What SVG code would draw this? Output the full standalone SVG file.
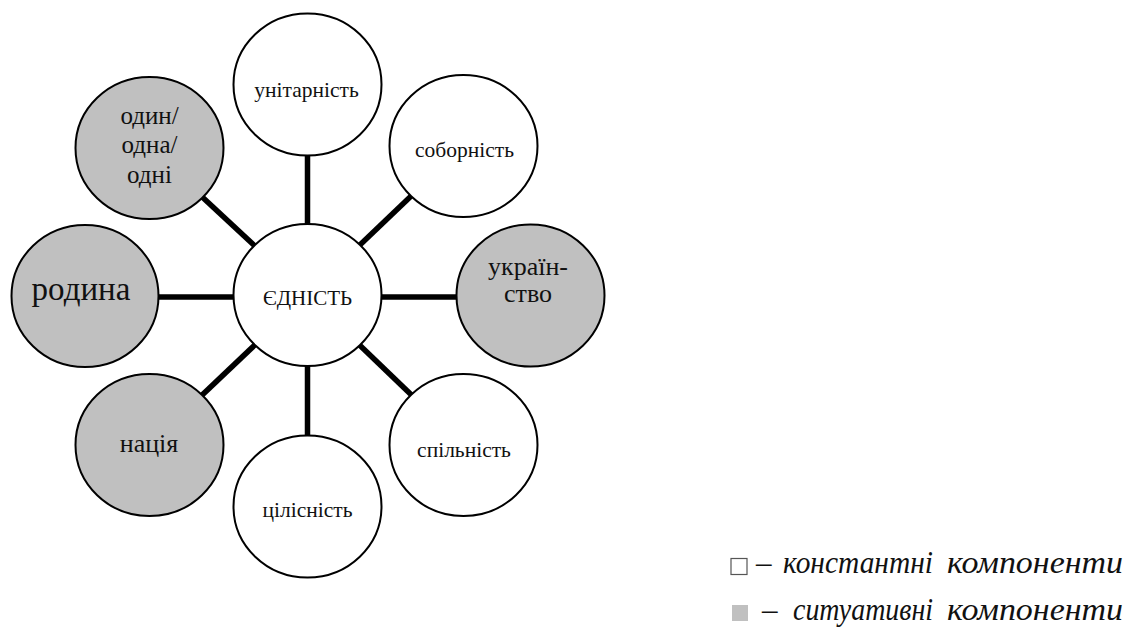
<svg xmlns="http://www.w3.org/2000/svg" width="1128" height="627" viewBox="0 0 1128 627">
  <style>
    .node { stroke: #000; stroke-width: 2; }
    .const { fill: #fff; }
    .sit { fill: #c0c0c0; }
    .label { font-family: "Liberation Serif", "DejaVu Serif", serif; fill: #111; text-anchor: middle; }
    .small { font-size: 21.5px; }
    .link { stroke: #000; stroke-width: 5.5; }
    .legend { font-family: "Liberation Serif", "DejaVu Serif", serif; font-style: italic; font-size: 31px; fill: #111; }
  </style>
  <rect width="1128" height="627" fill="#fff"/>

  <!-- connectors: hub to each satellite, drawn beneath the nodes -->
  <g id="connectors">
    <line class="link" x1="307.5" y1="295" x2="307.5" y2="85"/>
    <line class="link" x1="307.5" y1="295" x2="463.5" y2="146"/>
    <line class="link" x1="307.5" y1="297" x2="530.5" y2="297"/>
    <line class="link" x1="307.5" y1="295" x2="463.5" y2="445"/>
    <line class="link" x1="307.5" y1="295" x2="307.5" y2="506"/>
    <line class="link" x1="307.5" y1="295" x2="149.5" y2="445"/>
    <line class="link" x1="85" y1="297" x2="307.5" y2="297"/>
    <line class="link" x1="149.5" y1="148" x2="307.5" y2="295"/>
  </g>

  <g id="node-center">
    <ellipse class="node const" cx="307.5" cy="295" rx="74" ry="71"/>
    <text class="label" x="307.5" y="305" font-size="21">ЄДНІСТЬ</text>
  </g>

  <g id="node-unitarnist">
    <ellipse class="node const" cx="307.5" cy="84.5" rx="74" ry="71"/>
    <text class="label small" x="306.5" y="97">унітарність</text>
  </g>

  <g id="node-sobornist">
    <ellipse class="node const" cx="463.5" cy="146" rx="74" ry="71"/>
    <text class="label small" x="464.5" y="157">соборність</text>
  </g>

  <g id="node-ukrainstvo">
    <ellipse class="node sit" cx="530.5" cy="295.5" rx="74" ry="71"/>
    <text class="label" x="528" y="275" font-size="26">україн-</text>
    <text class="label" x="528" y="302" font-size="26">ство</text>
  </g>

  <g id="node-spilnist">
    <ellipse class="node const" cx="463.5" cy="445" rx="74" ry="71"/>
    <text class="label small" x="464" y="457">спільність</text>
  </g>

  <g id="node-tsilisnist">
    <ellipse class="node const" cx="307.5" cy="506.5" rx="74" ry="71"/>
    <text class="label small" x="307.5" y="517">цілісність</text>
  </g>

  <g id="node-natsiia">
    <ellipse class="node sit" cx="149.5" cy="445" rx="74" ry="71"/>
    <text class="label" x="149" y="452" font-size="26">нація</text>
  </g>

  <g id="node-rodyna">
    <ellipse class="node sit" cx="85" cy="296" rx="73.5" ry="71"/>
    <text class="label" x="81" y="300" font-size="33">родина</text>
  </g>

  <g id="node-odyn">
    <ellipse class="node sit" cx="149.5" cy="148" rx="74" ry="71"/>
    <text class="label" x="149.5" y="124" font-size="25">один/</text>
    <text class="label" x="149.5" y="153" font-size="25">одна/</text>
    <text class="label" x="149.5" y="183" font-size="25">одні</text>
  </g>

  <!-- legend: words placed individually so the columns line up -->
  <g id="legend">
    <rect x="731" y="558.5" width="16" height="16" fill="#fff" stroke="#555" stroke-width="1.2"/>
    <text class="legend" y="573"><tspan x="756">–</tspan><tspan x="783" textLength="150" lengthAdjust="spacingAndGlyphs">константні</tspan><tspan x="947" textLength="176" lengthAdjust="spacingAndGlyphs">компоненти</tspan></text>
    <rect x="732" y="605" width="16" height="16" fill="#c0c0c0"/>
    <text class="legend" y="620"><tspan x="762">–</tspan><tspan x="793" textLength="140" lengthAdjust="spacingAndGlyphs">ситуативні</tspan><tspan x="947" textLength="176" lengthAdjust="spacingAndGlyphs">компоненти</tspan></text>
  </g>
</svg>
